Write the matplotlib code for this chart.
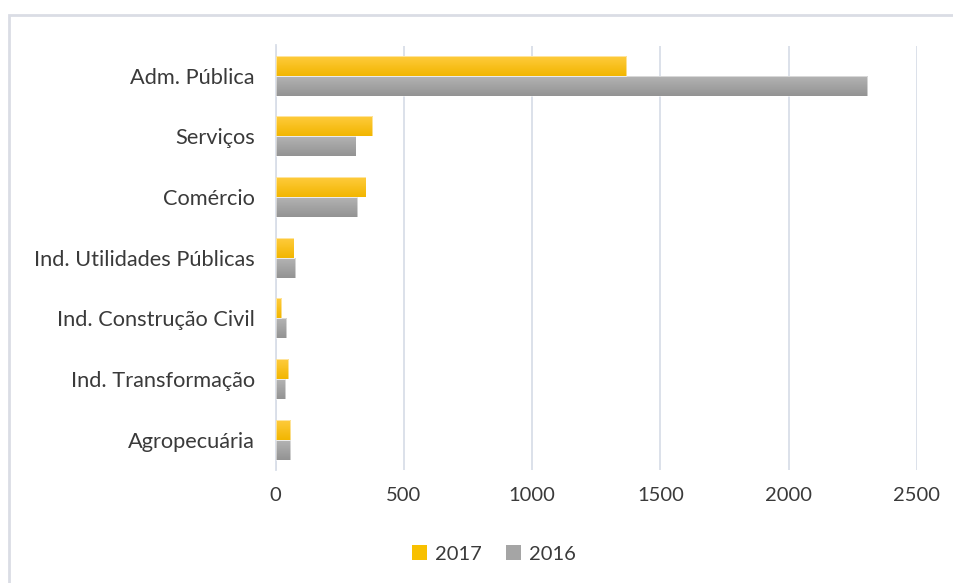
import numpy as np
import matplotlib
matplotlib.use("Agg")
import matplotlib.pyplot as plt
from matplotlib.colors import LinearSegmentedColormap
from matplotlib.patches import Rectangle, Patch

plt.rcParams['font.family'] = ['Lato', 'DejaVu Sans']

categories = ["Adm. Pública", "Serviços", "Comércio", "Ind. Utilidades Públicas",
              "Ind. Construção Civil", "Ind. Transformação", "Agropecuária"]
values_2017 = [1366, 377, 351, 70, 21, 47, 57]
values_2016 = [2306, 312, 316, 77, 41, 36, 57]
x_ticks = [0, 500, 1000, 1500, 2000, 2500]
series_labels = ["2017", "2016"]

text_color = "#3A3A3A"
grid_color = "#D9DEE8"

yellow_cmap = LinearSegmentedColormap.from_list("yel", ["#FFCC40", "#F2B600"])
gray_cmap = LinearSegmentedColormap.from_list("gry", ["#B5B5B5", "#939393"])

fig = plt.figure(figsize=(9.54, 5.83), dpi=100)
fig.patch.set_facecolor("white")

# outer chart frame
frame = Rectangle((9 / 954, -0.05), 1.2, 1 - 15.5 / 583 + 0.05, transform=fig.transFigure,
                  fill=False, edgecolor="#DADDE5", linewidth=2.0, zorder=0)
fig.add_artist(frame)

ax = fig.add_axes([275.7 / 954, 1 - 470 / 583, (916.7 - 275.7) / 954, (470 - 45.5) / 583])

y = np.arange(len(categories))
h = 0.33
bars17 = ax.barh(y - h / 2, values_2017, height=h, color="#FFC000", edgecolor="none", zorder=2)
bars16 = ax.barh(y + h / 2, values_2016, height=h, color="#A5A5A5", edgecolor="none", zorder=2)

grad = np.linspace(0, 1, 64).reshape(-1, 1)
for bars, cmap in ((bars17, yellow_cmap), (bars16, gray_cmap)):
    for b in bars:
        x0, y0 = b.get_x(), b.get_y()
        w, hh = b.get_width(), b.get_height()
        im = ax.imshow(grad, cmap=cmap, aspect="auto", origin="upper",
                       extent=(x0, x0 + w, y0 + hh, y0), zorder=3, interpolation="bilinear")
        im.set_clip_path(b)
        ax.add_patch(Rectangle((x0, y0), w, hh, fill=False, edgecolor="#FFFFFF",
                               linewidth=0.6, alpha=0.6, zorder=4))

ax.set_xlim(0, 2500)
ax.set_ylim(len(categories) - 0.5, -0.5)
ax.set_xticks(x_ticks)
ax.set_xticklabels([str(t) for t in x_ticks], fontsize=14.5, color=text_color)
ax.set_yticks(y)
ax.set_yticklabels(categories, fontsize=15.7, color=text_color)
ax.tick_params(axis="both", length=0)
ax.tick_params(axis="x", pad=12)
ax.tick_params(axis="y", pad=15)
ax.grid(axis="x", color=grid_color, linewidth=1.3, zorder=0)
ax.set_axisbelow(True)
for side in ("top", "right", "bottom"):
    ax.spines[side].set_visible(False)
ax.spines["left"].set_color(grid_color)
ax.spines["left"].set_linewidth(1.3)
ax.set_facecolor("none")

handles = [Patch(facecolor="#F8C000", edgecolor="none", label=series_labels[0]),
           Patch(facecolor="#A5A5A5", edgecolor="none", label=series_labels[1])]
fig.legend(handles=handles, loc="center", bbox_to_anchor=(494 / 954, 1 - 554 / 583), ncol=2,
           frameon=False, fontsize=14.5, labelcolor=text_color, handlelength=0.75,
           handleheight=0.75, handletextpad=0.4, columnspacing=1.2)

fig.savefig("out.png", dpi=100, facecolor="white")
